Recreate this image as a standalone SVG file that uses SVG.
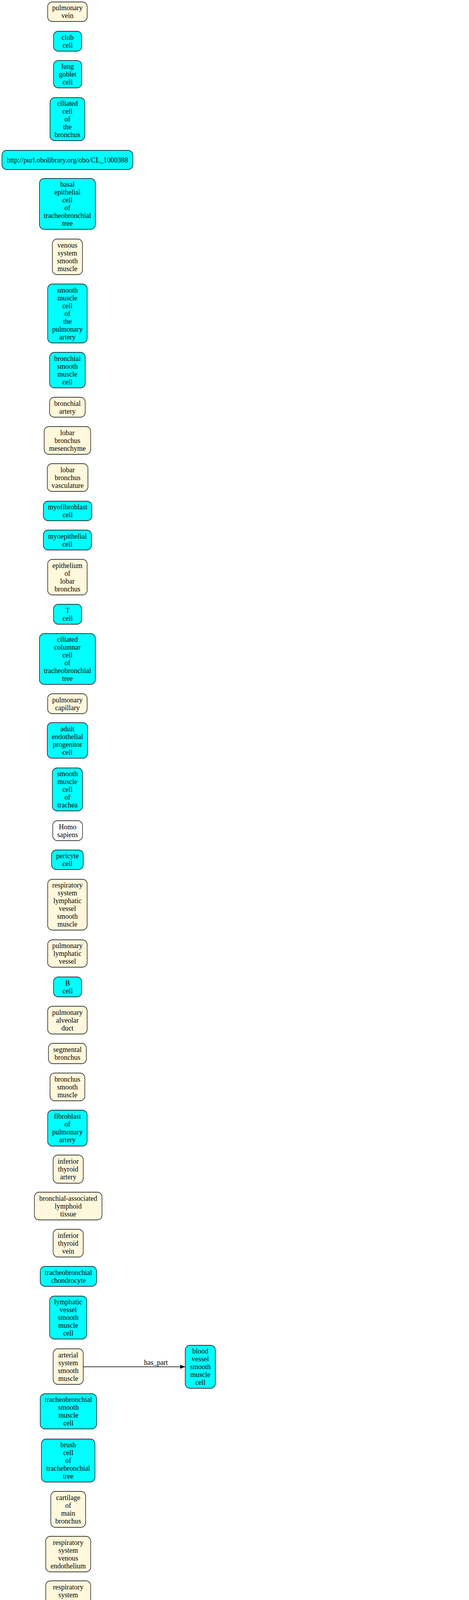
<svg xmlns="http://www.w3.org/2000/svg" width="1200" height="7312" viewBox="0 0 1200 7312">
<style>
rect{stroke:#000;stroke-width:1.3}
.c{fill:#00ffff}.b{fill:#fff8dc}.w{fill:#ffffff}
text{font-family:"Liberation Serif","Times New Roman",serif;font-size:18px;text-anchor:middle;fill:#000}
.e{fill:none;stroke:#1f78d2;stroke-width:1.6;marker-end:url(#ab)}
.k{fill:none;stroke:#000;stroke-width:1.6;marker-end:url(#ak)}
</style>
<defs>
<marker id="ab" markerUnits="userSpaceOnUse" markerWidth="13" markerHeight="10" refX="13" refY="5" orient="auto"><path d="M0,0 L13,5 L0,10 z" fill="#1f78d2"/></marker>
<marker id="ak" markerUnits="userSpaceOnUse" markerWidth="13" markerHeight="10" refX="13" refY="5" orient="auto"><path d="M0,0 L13,5 L0,10 z" fill="#000"/></marker>
</defs>
<rect x="0" y="0" width="1200" height="7312" fill="#fff" style="stroke:none"/>
<g id="edges">
<path class="k" d="M213,3499 L474,3499"/><text x="399" y="3494">has_part</text>
<path class="k" d="M232,4598 L460,4598"/><text x="399" y="4593">has_part</text>
<path class="e" d="M226,4908 L459,4940"/><text x="399" y="4923">part_of</text>
<path class="e" d="M226,4990 L459,4958"/><text x="399" y="4957">part_of</text>
<path class="e" d="M223,5467 L449,5467"/><text x="394" y="5462">part_of</text>
<path class="e" d="M226,5706 L467,5706"/><text x="394" y="5702">part_of</text>
<path class="e" d="M222,6006 L457,6006"/><text x="394" y="6002">part_of</text>
<path class="k" d="M555,5997 L673,5986"/><text x="618" y="5986">has_part</text>
<path class="e" d="M556,6031 L672,6085"/><text x="618" y="6041">part_of</text>
<path class="e" d="M773,5693 L907,5827"/><text x="822" y="5719">part_of</text>
<path class="e" d="M773,5820 L884,5842"/><text x="822" y="5821">part_of</text>
<path class="e" d="M773,5953 L891,5878"/><text x="822" y="5903">part_of</text>
<path class="e" d="M962,5878 L1113,6022"/><text x="1042" y="5927">part_of</text>
<path class="e" d="M561,6109 L672,6109"/><text x="618" y="6104">part_of</text>
<path class="k" d="M773,6101 L1093,6056"/><text x="933" y="6065">rdfs:subClassOf</text>
<path class="e" d="M542,6243 L687,6322"/><text x="618" y="6264">part_of</text>
<path class="e" d="M542,6355 L687,6345"/><text x="618" y="6343">part_of</text>
<path class="e" d="M757,6367 C790,6405 880,6460 914,6537"/><text x="822" y="6396">part_of</text>
<path class="e" d="M767,6455 L893,6537"/><text x="822" y="6472">part_of</text>
<path class="e" d="M767,6530 L884,6552"/><text x="822" y="6531">part_of</text>
<path class="e" d="M759,6597 L884,6573"/><text x="822" y="6576">part_of</text>
<path class="e" d="M757,6661 L891,6588"/><text x="822" y="6609">part_of</text>
<path class="e" d="M734,7010 L918,6588"/><text x="822" y="6752">part_of</text>
<path class="e" d="M542,6552 L687,6654"/><text x="618" y="6579">part_of</text>
<path class="e" d="M542,6664 L687,6675"/><text x="618" y="6663">part_of</text>
<path class="e" d="M542,6776 L687,6697"/><text x="618" y="6715">part_of</text>
<path class="e" d="M223,6819 Q350,6875 457,6953"/><text x="394" y="6888">part_of</text>
<path class="e" d="M213,6931 L457,6977"/><text x="394" y="6956">part_of</text>
<path class="e" d="M223,7039 L457,6996"/><text x="394" y="6997">part_of</text>
<path class="e" d="M223,7192 Q360,7110 463,7022"/><text x="394" y="7052">part_of</text>
<path class="e" d="M549,6922 Q640,6970 692,7011"/><text x="618" y="6938">part_of</text>
<path class="e" d="M556,6998 L685,7025"/><text x="618" y="7000">part_of</text>
<path class="e" d="M543,7076 Q620,7065 685,7047"/><text x="618" y="7052">part_of</text>
<path class="e" d="M543,7149 Q640,7100 692,7059"/><text x="618" y="7089">part_of</text>
<path class="e" d="M545,7237 Q680,7130 708,7059"/><text x="618" y="7149">part_of</text>
</g>
<g id="n1"><rect class="b" x="122" y="5" width="101" height="50" rx="12"/><text x="172.5" y="26"><tspan x="172.5">pulmonary</tspan><tspan x="172.5" dy="20">vein</tspan></text></g>
<g id="n2"><rect class="c" x="137" y="80" width="72" height="51" rx="12"/><text x="173" y="101.5"><tspan x="173">club</tspan><tspan x="173" dy="20">cell</tspan></text></g>
<g id="n3"><rect class="c" x="137" y="155" width="72" height="70" rx="12"/><text x="173" y="176"><tspan x="173">lung</tspan><tspan x="173" dy="20">goblet</tspan><tspan x="173" dy="20">cell</tspan></text></g>
<g id="n4"><rect class="c" x="128" y="250" width="89" height="110" rx="12"/><text x="172.5" y="271"><tspan x="172.5">ciliated</tspan><tspan x="172.5" dy="20">cell</tspan><tspan x="172.5" dy="20">of</tspan><tspan x="172.5" dy="20">the</tspan><tspan x="172.5" dy="20">bronchus</tspan></text></g>
<g id="n5"><rect class="c" x="5" y="385" width="335" height="49" rx="12"/><text x="172.5" y="415.5">http://purl.obolibrary.org/obo/CL_1000388</text></g>
<g id="n6"><rect class="c" x="101" y="457" width="143" height="130" rx="12"/><text x="172.5" y="478"><tspan x="172.5">basal</tspan><tspan x="172.5" dy="20">epithelial</tspan><tspan x="172.5" dy="20">cell</tspan><tspan x="172.5" dy="20">of</tspan><tspan x="172.5" dy="20">tracheobronchial</tspan><tspan x="172.5" dy="20">tree</tspan></text></g>
<g id="n7"><rect class="b" x="134" y="612" width="77" height="91" rx="12"/><text x="172.5" y="633.5"><tspan x="172.5">venous</tspan><tspan x="172.5" dy="20">system</tspan><tspan x="172.5" dy="20">smooth</tspan><tspan x="172.5" dy="20">muscle</tspan></text></g>
<g id="n8"><rect class="c" x="122" y="727" width="101" height="151" rx="12"/><text x="172.5" y="748.5"><tspan x="172.5">smooth</tspan><tspan x="172.5" dy="20">muscle</tspan><tspan x="172.5" dy="20">cell</tspan><tspan x="172.5" dy="20">of</tspan><tspan x="172.5" dy="20">the</tspan><tspan x="172.5" dy="20">pulmonary</tspan><tspan x="172.5" dy="20">artery</tspan></text></g>
<g id="n9"><rect class="c" x="127" y="902" width="91" height="91" rx="12"/><text x="172.5" y="923.5"><tspan x="172.5">bronchial</tspan><tspan x="172.5" dy="20">smooth</tspan><tspan x="172.5" dy="20">muscle</tspan><tspan x="172.5" dy="20">cell</tspan></text></g>
<g id="n10"><rect class="b" x="127" y="1017" width="91" height="51" rx="12"/><text x="172.5" y="1038.5"><tspan x="172.5">bronchial</tspan><tspan x="172.5" dy="20">artery</tspan></text></g>
<g id="n11"><rect class="b" x="113" y="1092" width="119" height="71" rx="12"/><text x="172.5" y="1113.5"><tspan x="172.5">lobar</tspan><tspan x="172.5" dy="20">bronchus</tspan><tspan x="172.5" dy="20">mesenchyme</tspan></text></g>
<g id="n12"><rect class="b" x="121" y="1187" width="104" height="71" rx="12"/><text x="173" y="1208.5"><tspan x="173">lobar</tspan><tspan x="173" dy="20">bronchus</tspan><tspan x="173" dy="20">vasculature</tspan></text></g>
<g id="n13"><rect class="c" x="111" y="1283" width="124" height="50" rx="12"/><text x="173" y="1304"><tspan x="173">myofibroblast</tspan><tspan x="173" dy="20">cell</tspan></text></g>
<g id="n14"><rect class="c" x="111" y="1357" width="123" height="51" rx="12"/><text x="172.5" y="1378.5"><tspan x="172.5">myoepithelial</tspan><tspan x="172.5" dy="20">cell</tspan></text></g>
<g id="n15"><rect class="b" x="122" y="1432" width="101" height="91" rx="12"/><text x="172.5" y="1453.5"><tspan x="172.5">epithelium</tspan><tspan x="172.5" dy="20">of</tspan><tspan x="172.5" dy="20">lobar</tspan><tspan x="172.5" dy="20">bronchus</tspan></text></g>
<g id="n16"><rect class="c" x="137" y="1547" width="72" height="51" rx="12"/><text x="173" y="1568.5"><tspan x="173">T</tspan><tspan x="173" dy="20">cell</tspan></text></g>
<g id="n17"><rect class="c" x="101" y="1622" width="143" height="130" rx="12"/><text x="172.5" y="1643"><tspan x="172.5">ciliated</tspan><tspan x="172.5" dy="20">columnar</tspan><tspan x="172.5" dy="20">cell</tspan><tspan x="172.5" dy="20">of</tspan><tspan x="172.5" dy="20">tracheobronchial</tspan><tspan x="172.5" dy="20">tree</tspan></text></g>
<g id="n18"><rect class="b" x="122" y="1776" width="101" height="51" rx="12"/><text x="172.5" y="1797.5"><tspan x="172.5">pulmonary</tspan><tspan x="172.5" dy="20">capillary</tspan></text></g>
<g id="n19"><rect class="c" x="121" y="1850" width="103" height="91" rx="12"/><text x="172.5" y="1871.5"><tspan x="172.5">adult</tspan><tspan x="172.5" dy="20">endothelial</tspan><tspan x="172.5" dy="20">progenitor</tspan><tspan x="172.5" dy="20">cell</tspan></text></g>
<g id="n20"><rect class="c" x="134" y="1966" width="77" height="110" rx="12"/><text x="172.5" y="1987"><tspan x="172.5">smooth</tspan><tspan x="172.5" dy="20">muscle</tspan><tspan x="172.5" dy="20">cell</tspan><tspan x="172.5" dy="20">of</tspan><tspan x="172.5" dy="20">trachea</tspan></text></g>
<g id="n21"><rect class="w" x="135" y="2101" width="76" height="51" rx="12"/><text x="173" y="2122.5"><tspan x="173">Homo</tspan><tspan x="173" dy="20">sapiens</tspan></text></g>
<g id="n22"><rect class="c" x="132" y="2176" width="81" height="50" rx="12"/><text x="172.5" y="2197"><tspan x="172.5">pericyte</tspan><tspan x="172.5" dy="20">cell</tspan></text></g>
<g id="n23"><rect class="b" x="122" y="2251" width="101" height="130" rx="12"/><text x="172.5" y="2272"><tspan x="172.5">respiratory</tspan><tspan x="172.5" dy="20">system</tspan><tspan x="172.5" dy="20">lymphatic</tspan><tspan x="172.5" dy="20">vessel</tspan><tspan x="172.5" dy="20">smooth</tspan><tspan x="172.5" dy="20">muscle</tspan></text></g>
<g id="n24"><rect class="b" x="122" y="2406" width="101" height="70" rx="12"/><text x="172.5" y="2427"><tspan x="172.5">pulmonary</tspan><tspan x="172.5" dy="20">lymphatic</tspan><tspan x="172.5" dy="20">vessel</tspan></text></g>
<g id="n25"><rect class="c" x="137" y="2501" width="72" height="51" rx="12"/><text x="173" y="2522.5"><tspan x="173">B</tspan><tspan x="173" dy="20">cell</tspan></text></g>
<g id="n26"><rect class="b" x="122" y="2576" width="101" height="71" rx="12"/><text x="172.5" y="2597.5"><tspan x="172.5">pulmonary</tspan><tspan x="172.5" dy="20">alveolar</tspan><tspan x="172.5" dy="20">duct</tspan></text></g>
<g id="n27"><rect class="b" x="124" y="2671" width="97" height="52" rx="12"/><text x="172.5" y="2693"><tspan x="172.5">segmental</tspan><tspan x="172.5" dy="20">bronchus</tspan></text></g>
<g id="n28"><rect class="b" x="128" y="2747" width="89" height="71" rx="12"/><text x="172.5" y="2768.5"><tspan x="172.5">bronchus</tspan><tspan x="172.5" dy="20">smooth</tspan><tspan x="172.5" dy="20">muscle</tspan></text></g>
<g id="n29"><rect class="c" x="122" y="2842" width="101" height="92" rx="12"/><text x="172.5" y="2864"><tspan x="172.5">fibroblast</tspan><tspan x="172.5" dy="20">of</tspan><tspan x="172.5" dy="20">pulmonary</tspan><tspan x="172.5" dy="20">artery</tspan></text></g>
<g id="n30"><rect class="b" x="136" y="2957" width="77" height="72" rx="12"/><text x="174.5" y="2979"><tspan x="174.5">inferior</tspan><tspan x="174.5" dy="20">thyroid</tspan><tspan x="174.5" dy="20">artery</tspan></text></g>
<g id="n31"><rect class="b" x="88" y="3052" width="173" height="71" rx="12"/><text x="174.5" y="3073.5"><tspan x="174.5">bronchial-associated</tspan><tspan x="174.5" dy="20">lymphoid</tspan><tspan x="174.5" dy="20">tissue</tspan></text></g>
<g id="n32"><rect class="b" x="136" y="3147" width="77" height="71" rx="12"/><text x="174.5" y="3168.5"><tspan x="174.5">inferior</tspan><tspan x="174.5" dy="20">thyroid</tspan><tspan x="174.5" dy="20">vein</tspan></text></g>
<g id="n33"><rect class="c" x="103" y="3242" width="144" height="51" rx="12"/><text x="175" y="3263.5"><tspan x="175">tracheobronchial</tspan><tspan x="175" dy="20">chondrocyte</tspan></text></g>
<g id="n34"><rect class="c" x="127" y="3318" width="95" height="110" rx="12"/><text x="174.5" y="3339"><tspan x="174.5">lymphatic</tspan><tspan x="174.5" dy="20">vessel</tspan><tspan x="174.5" dy="20">smooth</tspan><tspan x="174.5" dy="20">muscle</tspan><tspan x="174.5" dy="20">cell</tspan></text></g>
<g id="n35"><rect class="b" x="136" y="3453" width="77" height="91" rx="12"/><text x="174.5" y="3474.5"><tspan x="174.5">arterial</tspan><tspan x="174.5" dy="20">system</tspan><tspan x="174.5" dy="20">smooth</tspan><tspan x="174.5" dy="20">muscle</tspan></text></g>
<g id="n35b"><rect class="c" x="474" y="3444" width="77" height="110" rx="12"/><text x="512.5" y="3465"><tspan x="512.5">blood</tspan><tspan x="512.5" dy="20">vessel</tspan><tspan x="512.5" dy="20">smooth</tspan><tspan x="512.5" dy="20">muscle</tspan><tspan x="512.5" dy="20">cell</tspan></text></g>
<g id="n36"><rect class="c" x="103" y="3568" width="144" height="90" rx="12"/><text x="175" y="3589"><tspan x="175">tracheobronchial</tspan><tspan x="175" dy="20">smooth</tspan><tspan x="175" dy="20">muscle</tspan><tspan x="175" dy="20">cell</tspan></text></g>
<g id="n37"><rect class="c" x="106" y="3684" width="137" height="110" rx="12"/><text x="174.5" y="3705"><tspan x="174.5">brush</tspan><tspan x="174.5" dy="20">cell</tspan><tspan x="174.5" dy="20">of</tspan><tspan x="174.5" dy="20">trachebronchial</tspan><tspan x="174.5" dy="20">tree</tspan></text></g>
<g id="n38"><rect class="b" x="130" y="3818" width="89" height="92" rx="12"/><text x="174.5" y="3840"><tspan x="174.5">cartilage</tspan><tspan x="174.5" dy="20">of</tspan><tspan x="174.5" dy="20">main</tspan><tspan x="174.5" dy="20">bronchus</tspan></text></g>
<g id="n39"><rect class="b" x="117" y="3933" width="115" height="91" rx="12"/><text x="174.5" y="3954.5"><tspan x="174.5">respiratory</tspan><tspan x="174.5" dy="20">system</tspan><tspan x="174.5" dy="20">venous</tspan><tspan x="174.5" dy="20">endothelium</tspan></text></g>
<g id="n40"><rect class="b" x="117" y="4047" width="115" height="91" rx="12"/><text x="174.5" y="4068.5"><tspan x="174.5">respiratory</tspan><tspan x="174.5" dy="20">system</tspan><tspan x="174.5" dy="20">arterial</tspan><tspan x="174.5" dy="20">endothelium</tspan></text></g>
<g id="n41"><rect class="c" x="119" y="4163" width="111" height="71" rx="12"/><text x="174.5" y="4184.5"><tspan x="174.5">type</tspan><tspan x="174.5" dy="20">I</tspan><tspan x="174.5" dy="20">pneumocyte</tspan></text></g>
<g id="n42"><rect class="c" x="119" y="4258" width="111" height="71" rx="12"/><text x="174.5" y="4279.5"><tspan x="174.5">type</tspan><tspan x="174.5" dy="20">II</tspan><tspan x="174.5" dy="20">pneumocyte</tspan></text></g>
<g id="n43"><rect class="b" x="129" y="4352" width="92" height="52" rx="12"/><text x="175" y="4374"><tspan x="175">bronchial</tspan><tspan x="175" dy="20">vein</tspan></text></g>
<g id="n44"><rect class="c" x="123" y="4427" width="103" height="91" rx="12"/><text x="174.5" y="4448.5"><tspan x="174.5">endothelial</tspan><tspan x="174.5" dy="20">cell</tspan><tspan x="174.5" dy="20">of</tspan><tspan x="174.5" dy="20">artery</tspan></text></g>
<g id="n45"><rect class="b" x="117" y="4543" width="115" height="111" rx="12"/><text x="174.5" y="4564.5"><tspan x="174.5">respiratory</tspan><tspan x="174.5" dy="20">system</tspan><tspan x="174.5" dy="20">lymphatic</tspan><tspan x="174.5" dy="20">vessel</tspan><tspan x="174.5" dy="20">endothelium</tspan></text></g>
<g id="n45b"><rect class="c" x="460" y="4543" width="103" height="111" rx="12"/><text x="511.5" y="4564.5"><tspan x="511.5">endothelial</tspan><tspan x="511.5" dy="20">cell</tspan><tspan x="511.5" dy="20">of</tspan><tspan x="511.5" dy="20">lymphatic</tspan><tspan x="511.5" dy="20">vessel</tspan></text></g>
<g id="n46"><rect class="c" x="106" y="4678" width="137" height="70" rx="12"/><text x="174.5" y="4699"><tspan x="174.5">lung</tspan><tspan x="174.5" dy="20">neuroendocrine</tspan><tspan x="174.5" dy="20">cell</tspan></text></g>
<g id="n47"><rect class="b" x="105" y="4772" width="139" height="71" rx="12"/><text x="174.5" y="4793.5"><tspan x="174.5">bronchoalveolar</tspan><tspan x="174.5" dy="20">duct</tspan><tspan x="174.5" dy="20">junction</tspan></text></g>
<g id="n48"><rect class="b" x="124" y="4867" width="102" height="71" rx="12"/><text x="175" y="4888.5"><tspan x="175">left</tspan><tspan x="175" dy="20">pulmonary</tspan><tspan x="175" dy="20">artery</tspan></text></g>
<g id="n49"><rect class="b" x="124" y="4962" width="102" height="71" rx="12"/><text x="175" y="4983.5"><tspan x="175">right</tspan><tspan x="175" dy="20">pulmonary</tspan><tspan x="175" dy="20">artery</tspan></text></g>
<g id="n49b"><rect class="b" x="459" y="4926" width="105" height="49" rx="12"/><text x="511.5" y="4956.5">vasculature</text></g>
<g id="n50"><rect class="b" x="124" y="5056" width="101" height="111" rx="12"/><text x="174.5" y="5077.5"><tspan x="174.5">respiratory</tspan><tspan x="174.5" dy="20">system</tspan><tspan x="174.5" dy="20">venous</tspan><tspan x="174.5" dy="20">smooth</tspan><tspan x="174.5" dy="20">muscle</tspan></text></g>
<g id="n51"><rect class="b" x="124" y="5191" width="101" height="111" rx="12"/><text x="174.5" y="5212.5"><tspan x="174.5">respiratory</tspan><tspan x="174.5" dy="20">system</tspan><tspan x="174.5" dy="20">arterial</tspan><tspan x="174.5" dy="20">smooth</tspan><tspan x="174.5" dy="20">muscle</tspan></text></g>
<g id="n52"><rect class="c" x="102" y="5326" width="145" height="70" rx="12"/><text x="174.5" y="5347"><tspan x="174.5">bronchioalveolar</tspan><tspan x="174.5" dy="20">stem</tspan><tspan x="174.5" dy="20">cells</tspan></text></g>
<g id="n53"><rect class="c" x="121" y="5421" width="102" height="91" rx="12"/><text x="172" y="5442.5"><tspan x="172">pulmonary</tspan><tspan x="172" dy="20">artery</tspan><tspan x="172" dy="20">endothelial</tspan><tspan x="172" dy="20">cell</tspan></text></g>
<g id="n53b"><rect class="b" x="449" y="5431" width="113" height="71" rx="12"/><text x="505.5" y="5452.5"><tspan x="505.5">pulmonary</tspan><tspan x="505.5" dy="20">artery</tspan><tspan x="505.5" dy="20">endothelium</tspan></text></g>
<g id="n54"><rect class="b" x="134" y="5536" width="77" height="91" rx="12"/><text x="172.5" y="5557.5"><tspan x="172.5">mucous</tspan><tspan x="172.5" dy="20">gland</tspan><tspan x="172.5" dy="20">of</tspan><tspan x="172.5" dy="20">lung</tspan></text></g>
<g id="n55"><rect class="c" x="119" y="5651" width="107" height="111" rx="12"/><text x="172.5" y="5672.5"><tspan x="172.5">mesothelial</tspan><tspan x="172.5" dy="20">cell</tspan><tspan x="172.5" dy="20">of</tspan><tspan x="172.5" dy="20">visceral</tspan><tspan x="172.5" dy="20">pleura</tspan></text></g>
<g id="n55b"><rect class="b" x="467" y="5681" width="78" height="51" rx="12"/><text x="506" y="5702.5"><tspan x="506">visceral</tspan><tspan x="506" dy="20">pleura</tspan></text></g>
<g id="n56"><rect class="c" x="122" y="5786" width="100" height="131" rx="12"/><text x="172" y="5807.5"><tspan x="172">serous</tspan><tspan x="172" dy="20">cell</tspan><tspan x="172" dy="20">of</tspan><tspan x="172" dy="20">epithelium</tspan><tspan x="172" dy="20">of</tspan><tspan x="172" dy="20">bronchus</tspan></text></g>
<g id="n57"><rect class="b" x="122" y="5941" width="100" height="130" rx="12"/><text x="172" y="5962"><tspan x="172">smooth</tspan><tspan x="172" dy="20">muscle</tspan><tspan x="172" dy="20">tissue</tspan><tspan x="172" dy="20">of</tspan><tspan x="172" dy="20">respiratory</tspan><tspan x="172" dy="20">bronchiole</tspan></text></g>
<g id="n57b"><rect class="b" x="457" y="5981" width="98" height="51" rx="12"/><text x="506" y="6002.5"><tspan x="506">respiratory</tspan><tspan x="506" dy="20">bronchiole</tspan></text></g>
<g id="n60"><rect class="b" x="673" y="5579" width="98" height="130" rx="12"/><text x="722" y="5600"><tspan x="722">smooth</tspan><tspan x="722" dy="20">muscle</tspan><tspan x="722" dy="20">tissue</tspan><tspan x="722" dy="20">of</tspan><tspan x="722" dy="20">terminal</tspan><tspan x="722" dy="20">bronchiole</tspan></text></g>
<g id="n61"><rect class="c" x="673" y="5734" width="98" height="150" rx="12"/><text x="722" y="5755"><tspan x="722">serous</tspan><tspan x="722" dy="20">cell</tspan><tspan x="722" dy="20">of</tspan><tspan x="722" dy="20">epithelium</tspan><tspan x="722" dy="20">of</tspan><tspan x="722" dy="20">terminal</tspan><tspan x="722" dy="20">bronchiole</tspan></text></g>
<g id="n62"><rect class="c" x="673" y="5909" width="98" height="150" rx="12"/><text x="722" y="5930"><tspan x="722">basal</tspan><tspan x="722" dy="20">cell</tspan><tspan x="722" dy="20">of</tspan><tspan x="722" dy="20">epithelium</tspan><tspan x="722" dy="20">of</tspan><tspan x="722" dy="20">terminal</tspan><tspan x="722" dy="20">bronchiole</tspan></text></g>
<g id="n63"><rect class="b" x="884" y="5827" width="98" height="51" rx="12"/><text x="933" y="5848.5"><tspan x="933">terminal</tspan><tspan x="933" dy="20">bronchiole</tspan></text></g>
<g id="n64"><rect class="b" x="1093" y="6022" width="101" height="51" rx="12"/><text x="1143.5" y="6043.5"><tspan x="1143.5">pulmonary</tspan><tspan x="1143.5" dy="20">lobule</tspan></text></g>
<g id="n65"><rect class="b" x="672" y="6084" width="101" height="50" rx="12"/><text x="722.5" y="6105"><tspan x="722.5">pulmonary</tspan><tspan x="722.5" dy="20">acinus</tspan></text></g>
<g id="n66"><rect class="b" x="451" y="6074" width="110" height="71" rx="12"/><text x="506" y="6095.5"><tspan x="506">pulmonary</tspan><tspan x="506" dy="20">alveolar</tspan><tspan x="506" dy="20">parenchyma</tspan></text></g>
<g id="n67"><rect class="b" x="470" y="6169" width="72" height="111" rx="12"/><text x="506" y="6190.5"><tspan x="506">upper</tspan><tspan x="506" dy="20">lobe</tspan><tspan x="506" dy="20">of</tspan><tspan x="506" dy="20">left</tspan><tspan x="506" dy="20">lung</tspan></text></g>
<g id="n68"><rect class="b" x="470" y="6303" width="72" height="111" rx="12"/><text x="506" y="6324.5"><tspan x="506">lower</tspan><tspan x="506" dy="20">lobe</tspan><tspan x="506" dy="20">of</tspan><tspan x="506" dy="20">left</tspan><tspan x="506" dy="20">lung</tspan></text></g>
<g id="n69"><rect class="b" x="687" y="6316" width="70" height="51" rx="12"/><text x="722" y="6337.5"><tspan x="722">left</tspan><tspan x="722" dy="20">lung</tspan></text></g>
<g id="n70"><rect class="c" x="122" y="6328" width="101" height="50" rx="12"/><text x="172.5" y="6349"><tspan x="172.5">pulmonary</tspan><tspan x="172.5" dy="20">ionocyte</tspan></text></g>
<g id="n71"><rect class="b" x="679" y="6391" width="86" height="71" rx="12"/><text x="722" y="6412.5"><tspan x="722">right</tspan><tspan x="722" dy="20">main</tspan><tspan x="722" dy="20">bronchus</tspan></text></g>
<g id="n72"><rect class="b" x="679" y="6486" width="86" height="71" rx="12"/><text x="722" y="6507.5"><tspan x="722">left</tspan><tspan x="722" dy="20">main</tspan><tspan x="722" dy="20">bronchus</tspan></text></g>
<g id="n73"><rect class="b" x="470" y="6472" width="72" height="110" rx="12"/><text x="506" y="6493"><tspan x="506">upper</tspan><tspan x="506" dy="20">lobe</tspan><tspan x="506" dy="20">of</tspan><tspan x="506" dy="20">right</tspan><tspan x="506" dy="20">lung</tspan></text></g>
<g id="n74"><rect class="b" x="884" y="6537" width="98" height="51" rx="12"/><text x="933" y="6558.5"><tspan x="933">respiratory</tspan><tspan x="933" dy="20">system</tspan></text></g>
<g id="n75"><rect class="b" x="687" y="6581" width="70" height="48" rx="12"/><text x="722" y="6611">lung</text></g>
<g id="n76"><rect class="b" x="470" y="6607" width="72" height="110" rx="12"/><text x="506" y="6628"><tspan x="506">middle</tspan><tspan x="506" dy="20">lobe</tspan><tspan x="506" dy="20">of</tspan><tspan x="506" dy="20">right</tspan><tspan x="506" dy="20">lung</tspan></text></g>
<g id="n77"><rect class="b" x="687" y="6653" width="70" height="51" rx="12"/><text x="722" y="6674.5"><tspan x="722">right</tspan><tspan x="722" dy="20">lung</tspan></text></g>
<g id="n78"><rect class="c" x="122" y="6733" width="100" height="131" rx="12"/><text x="172" y="6754.5"><tspan x="172">serous</tspan><tspan x="172" dy="20">cell</tspan><tspan x="172" dy="20">of</tspan><tspan x="172" dy="20">epithelium</tspan><tspan x="172" dy="20">of</tspan><tspan x="172" dy="20">trachea</tspan></text></g>
<g id="n79"><rect class="b" x="470" y="6740" width="72" height="111" rx="12"/><text x="506" y="6761.5"><tspan x="506">lower</tspan><tspan x="506" dy="20">lobe</tspan><tspan x="506" dy="20">of</tspan><tspan x="506" dy="20">right</tspan><tspan x="506" dy="20">lung</tspan></text></g>
<g id="n80"><rect class="b" x="464" y="6876" width="83" height="51" rx="12"/><text x="505.5" y="6897.5"><tspan x="505.5">trachea</tspan><tspan x="505.5" dy="20">cartilage</tspan></text></g>
<g id="n81"><rect class="c" x="134" y="6888" width="77" height="71" rx="12"/><text x="172.5" y="6909.5"><tspan x="172.5">tracheal</tspan><tspan x="172.5" dy="20">goblet</tspan><tspan x="172.5" dy="20">cell</tspan></text></g>
<g id="n82"><rect class="b" x="456" y="6951" width="100" height="71" rx="12"/><text x="506" y="6972.5"><tspan x="506">epithelium</tspan><tspan x="506" dy="20">of</tspan><tspan x="506" dy="20">trachea</tspan></text></g>
<g id="n83"><rect class="c" x="122" y="6984" width="100" height="130" rx="12"/><text x="172" y="7005"><tspan x="172">basal</tspan><tspan x="172" dy="20">cell</tspan><tspan x="172" dy="20">of</tspan><tspan x="172" dy="20">epithelium</tspan><tspan x="172" dy="20">of</tspan><tspan x="172" dy="20">trachea</tspan></text></g>
<g id="n84"><rect class="b" x="685" y="7010" width="74" height="49" rx="12"/><text x="722" y="7040.5">trachea</text></g>
<g id="n85"><rect class="b" x="468" y="7045" width="75" height="71" rx="12"/><text x="505.5" y="7066.5"><tspan x="505.5">trachea</tspan><tspan x="505.5" dy="20">blood</tspan><tspan x="505.5" dy="20">vessel</tspan></text></g>
<g id="n86"><rect class="c" x="122" y="7139" width="100" height="151" rx="12"/><text x="172" y="7160.5"><tspan x="172">dense-core</tspan><tspan x="172" dy="20">granulated</tspan><tspan x="172" dy="20">cell</tspan><tspan x="172" dy="20">of</tspan><tspan x="172" dy="20">epithelium</tspan><tspan x="172" dy="20">of</tspan><tspan x="172" dy="20">trachea</tspan></text></g>
<g id="n87"><rect class="b" x="468" y="7141" width="75" height="51" rx="12"/><text x="505.5" y="7162.5"><tspan x="505.5">trachea</tspan><tspan x="505.5" dy="20">gland</tspan></text></g>
<g id="n88"><rect class="b" x="468" y="7215" width="75" height="92" rx="12"/><text x="505.5" y="7237"><tspan x="505.5">smooth</tspan><tspan x="505.5" dy="20">muscle</tspan><tspan x="505.5" dy="20">of</tspan><tspan x="505.5" dy="20">trachea</tspan></text></g>
</svg>
